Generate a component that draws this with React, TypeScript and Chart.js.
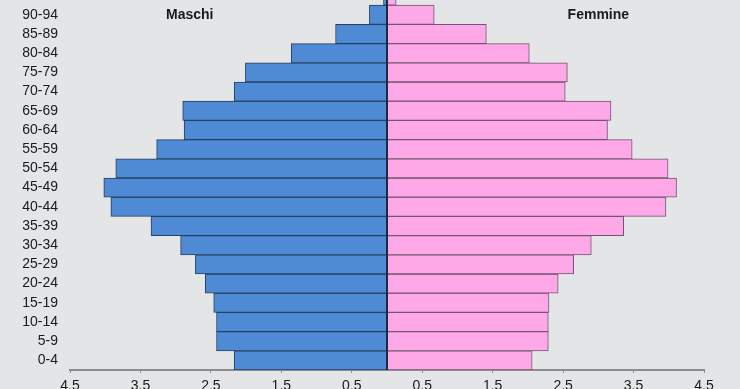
import React, { useEffect, useRef } from 'react';
import { Chart, registerables } from 'chart.js';

Chart.register(...registerables);

const ageGroups = ['0-4', '5-9', '10-14', '15-19', '20-24', '25-29', '30-34', '35-39', '40-44', '45-49', '50-54', '55-59', '60-64', '65-69', '70-74', '75-79', '80-84', '85-89', '90-94', '95-99'];
const maleValues = [2.17, 2.42, 2.42, 2.46, 2.58, 2.72, 2.93, 3.35, 3.92, 4.02, 3.85, 3.27, 2.88, 2.9, 2.17, 2.01, 1.36, 0.73, 0.25, 0.05];
const femaleValues = [2.06, 2.29, 2.29, 2.3, 2.43, 2.65, 2.9, 3.36, 3.96, 4.11, 3.99, 3.48, 3.13, 3.18, 2.53, 2.56, 2.02, 1.41, 0.67, 0.13];
const xTickValues = [-4.5, -3.5, -2.5, -1.5, -0.5, 0.5, 1.5, 2.5, 3.5, 4.5];
const seriesNames = ['Maschi', 'Femmine'];
const seriesLabelX = [-2.8, 3.0];
const seriesLabelRow = '90-94';

const FONT = "'Liberation Sans', Arial, sans-serif";

export default function App() {
  const ref = useRef<HTMLCanvasElement | null>(null);

  useEffect(() => {
    if (!ref.current) return;

    const overlay = {
      id: 'overlay',
      afterDatasetsDraw(chart: any) {
        const { ctx, chartArea, scales } = chart;
        const x0 = scales.x.getPixelForValue(0);
        ctx.save();
        ctx.strokeStyle = '#1c2a3c';
        ctx.lineWidth = 2;
        ctx.beginPath();
        ctx.moveTo(x0, chartArea.top);
        ctx.lineTo(x0, chartArea.bottom);
        ctx.stroke();
        const rowIdx = ageGroups.indexOf(seriesLabelRow);
        const y = scales.y.getPixelForValue(rowIdx);
        ctx.fillStyle = '#1a1a1a';
        ctx.font = `bold 14px ${FONT}`;
        ctx.textAlign = 'center';
        ctx.textBaseline = 'middle';
        seriesNames.forEach((name, i) => {
          ctx.fillText(name, scales.x.getPixelForValue(seriesLabelX[i]), y);
        });
        ctx.restore();
      },
    };

    const chart = new Chart(ref.current, {
      type: 'bar',
      data: {
        labels: ageGroups,
        datasets: [
          {
            label: seriesNames[0],
            data: maleValues.map((v) => -v),
            backgroundColor: '#4f8ad5',
            borderColor: '#24405f',
            borderWidth: 1,
            borderSkipped: false,
            barPercentage: 1,
            categoryPercentage: 1,
          },
          {
            label: seriesNames[1],
            data: femaleValues,
            backgroundColor: '#ffa8e8',
            borderColor: '#6f5570',
            borderWidth: 1,
            borderSkipped: false,
            barPercentage: 1,
            categoryPercentage: 1,
          },
        ],
      },
      options: {
        indexAxis: 'y',
        responsive: false,
        animation: false,
        layout: { padding: { left: 0, right: 36, top: 0, bottom: 16 } },
        plugins: { legend: { display: false }, tooltip: { enabled: false } },
        scales: {
          x: {
            type: 'linear',
            stacked: true,
            min: -4.5,
            max: 4.5,
            afterBuildTicks: (scale: any) => {
              scale.ticks = xTickValues.map((v) => ({ value: v }));
            },
            afterFit: (scale: any) => {
              scale.height = 30;
              scale.paddingLeft = 0;
              scale.paddingRight = 0;
            },
            grid: {
              display: true,
              drawOnChartArea: false,
              drawTicks: true,
              tickLength: 3,
              color: '#8c8c8c',
              lineWidth: 1,
            },
            border: { display: true, color: '#8c8c8c', width: 2 },
            ticks: {
              padding: 5,
              color: '#1a1a1a',
              font: { family: FONT, size: 14 },
              maxRotation: 0,
              autoSkip: false,
              callback: (v: any) => Math.abs(Number(v)).toFixed(1),
            },
          },
          y: {
            type: 'category',
            stacked: true,
            reverse: true,
            afterFit: (scale: any) => {
              scale.width = 70;
              scale.paddingTop = 0;
              scale.paddingBottom = 0;
            },
            grid: { display: false, drawTicks: false },
            border: { display: false },
            ticks: {
              padding: 12,
              color: '#1a1a1a',
              font: { family: FONT, size: 14 },
              autoSkip: false,
            },
          },
        },
      },
      plugins: [overlay],
    });

    return () => chart.destroy();
  }, []);

  return (
    <div
      style={{
        position: 'fixed',
        left: 0,
        top: 0,
        width: 740,
        height: 389,
        overflow: 'hidden',
        background: '#e4e5e7',
      }}
    >
      <div style={{ position: 'absolute', left: 0, top: -14, width: 740, height: 430 }}>
        <canvas ref={ref} width={740} height={430} style={{ width: 740, height: 430, display: 'block' }} />
      </div>
    </div>
  );
}
